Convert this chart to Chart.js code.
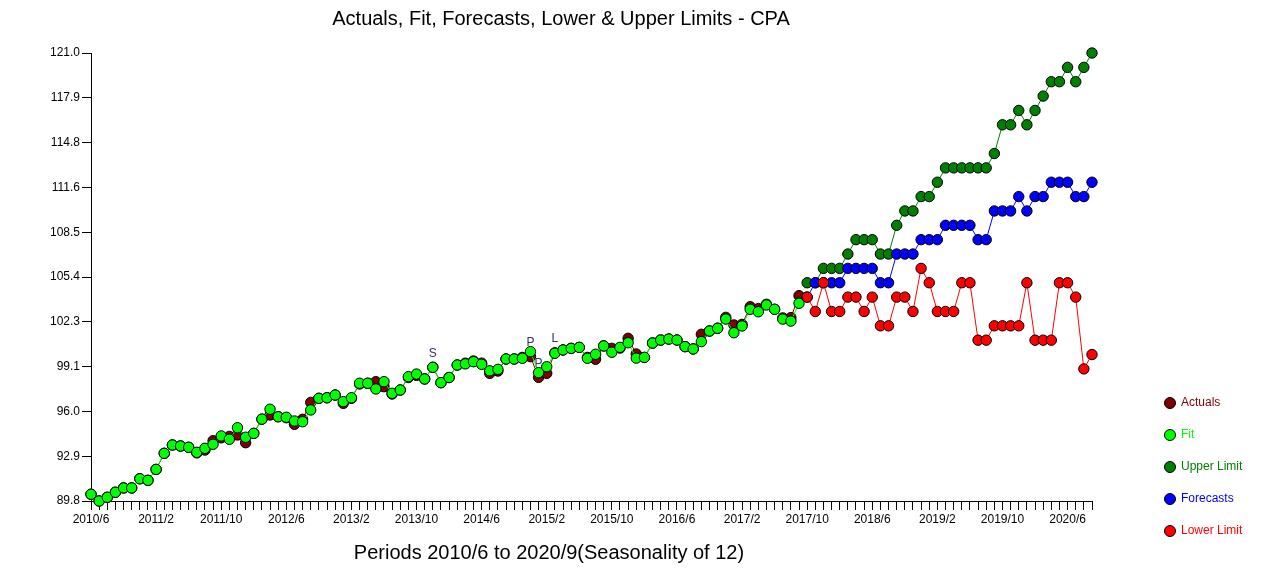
<!DOCTYPE html>
<html>
<head>
<meta charset="utf-8">
<script src="https://cdn.jsdelivr.net/npm/chart.js@4.4.1/dist/chart.umd.min.js"></script>
<style>
  html, body { margin: 0; padding: 0; background: #ffffff; }
  canvas { display: block; }
</style>
</head>
<body>
<canvas id="c" width="1281" height="575"></canvas>
<script>
// ---------------- DATA ----------------
const chartTitle = 'Actuals, Fit, Forecasts, Lower & Upper Limits - CPA';
const xAxisTitle = 'Periods 2010/6 to 2020/9(Seasonality of 12)';
const periodCount = 124;            // 2010/6 .. 2020/9 monthly
const xLabelEvery = 8;
const xTickLabels = ['2010/6','2011/2','2011/10','2012/6','2013/2','2013/10','2014/6','2015/2',
                     '2015/10','2016/6','2017/2','2017/10','2018/6','2019/2','2019/10','2020/6'];
const yTickLabels = ['89.8','92.9','96.0','99.1','102.3','105.4','108.5','111.6','114.8','117.9','121.0'];
const yMin = 89.8, yMax = 121.0;

const actualValues = [
  90.27, 89.80, 90.06, 90.41, 90.71, 90.71, 91.35, 91.24, 92.00, 93.12,
  93.70, 93.63, 93.54, 93.15, 93.35, 94.00, 94.20, 94.30, 94.40, 93.86,
  94.51, 95.50, 95.79, 95.67, 95.60, 95.14, 95.49, 96.67, 96.95, 96.99,
  97.18, 96.60, 96.95, 97.95, 98.00, 98.11, 97.76, 97.25, 97.53, 98.40,
  98.55, 98.30, 99.11, 98.04, 98.40, 99.27, 99.40, 99.55, 99.40, 98.69,
  98.85, 99.69, 99.69, 99.80, 99.85, 98.41, 98.69, 100.12, 100.32, 100.43,
  100.50, 99.80, 99.67, 100.60, 100.43, 100.45, 101.13, 100.04, 99.80, 100.80,
  101.01, 101.08, 101.01, 100.55, 100.39, 101.41, 101.64, 101.83, 102.59, 102.06,
  102.10, 103.33, 103.20, 103.50, 103.15, 102.55, 102.57, 104.10
];
const fitValues = [
  90.27, 89.80, 90.06, 90.41, 90.71, 90.71, 91.35, 91.24, 92.00, 93.12,
  93.70, 93.63, 93.54, 93.19, 93.47, 93.75, 94.33, 94.10, 94.90, 94.24,
  94.51, 95.50, 96.19, 95.67, 95.63, 95.37, 95.32, 96.14, 96.95, 96.99,
  97.18, 96.72, 96.99, 98.00, 98.00, 97.60, 98.11, 97.30, 97.53, 98.46,
  98.64, 98.30, 99.11, 98.04, 98.40, 99.27, 99.35, 99.50, 99.32, 98.87,
  98.97, 99.69, 99.69, 99.74, 100.20, 98.74, 99.15, 100.09, 100.32, 100.43,
  100.50, 99.74, 100.02, 100.60, 100.16, 100.50, 100.82, 99.75, 99.80, 100.80,
  101.01, 101.08, 101.01, 100.55, 100.39, 100.90, 101.64, 101.83, 102.47, 101.52,
  101.99, 103.15, 102.98, 103.45, 103.15, 102.47, 102.33, 103.57
];
const forecastStart = 88;           // 2017/10
const upperValues = [
  105, 105, 106, 106, 106, 107, 108, 108, 108, 107, 107, 109, 110, 110, 111, 111, 112, 113,
  113, 113, 113, 113, 113, 114, 116, 116, 117, 116, 117, 118, 119, 119, 120, 119, 120, 121
];
const forecastValues = [
  104, 105, 105, 105, 105, 106, 106, 106, 106, 105, 105, 107, 107, 107, 108, 108, 108, 109,
  109, 109, 109, 108, 108, 110, 110, 110, 111, 110, 111, 111, 112, 112, 112, 111, 111, 112
];
const lowerValues = [
  104, 103, 105, 103, 103, 104, 104, 103, 104, 102, 102, 104, 104, 103, 106, 105, 103, 103,
  103, 105, 105, 101, 101, 102, 102, 102, 102, 105, 101, 101, 101, 105, 105, 104, 99, 100
];
const annotationIndex = [42, 54, 55, 57];
const annotationText  = ['S', 'P', 'P', 'L'];

// ---------------- BUILD ----------------
const FONT = "'Liberation Sans', Arial, sans-serif";
const toPoints = (vals, start) => vals.map((v, i) => ({ x: start + i, y: v }));

function series(label, color, vals, start, order) {
  return {
    label, data: toPoints(vals, start), order,
    borderColor: color, backgroundColor: color, borderWidth: 1,
    pointBackgroundColor: color, pointBorderColor: '#000000', pointBorderWidth: 1,
    pointRadius: 5.2, pointHoverRadius: 5.2, tension: 0, clip: false, fill: false
  };
}

const datasets = [
  series('Actuals', '#800000', actualValues, 0, 5),
  series('Fit', '#00FF00', fitValues, 0, 4),
  series('Upper Limit', '#008000', upperValues, forecastStart, 3),
  series('Forecasts', '#0000FF', forecastValues, forecastStart, 2),
  series('Lower Limit', '#FF0000', lowerValues, forecastStart, 1)
];

const annotationPlugin = {
  id: 'annot',
  afterDatasetDraw(chart, args) {
    if (args.index !== 0) return;
    const ctx = chart.ctx, meta = chart.getDatasetMeta(0);
    ctx.save();
    ctx.font = '12px ' + FONT;
    ctx.fillStyle = '#333366';
    ctx.textAlign = 'center';
    ctx.textBaseline = 'middle';
    annotationIndex.forEach((idx, k) => {
      const p = meta.data[idx];
      ctx.fillText(annotationText[k], p.x, p.y - 14);
    });
    ctx.restore();
  }
};

const textPlugin = {
  id: 'texts',
  afterDraw(chart) {
    const ctx = chart.ctx, a = chart.chartArea;
    ctx.save();
    ctx.fillStyle = '#000000';
    ctx.textAlign = 'center';
    ctx.textBaseline = 'middle';
    ctx.font = '20px ' + FONT;
    ctx.fillText(chartTitle, a.left + 470, 19);
    ctx.fillText(xAxisTitle, a.left + 458, 553);
    // legend
    ctx.font = '12px ' + FONT;
    ctx.textAlign = 'left';
    chart.data.datasets.forEach((ds, i) => {
      const y = a.bottom - 98 + i * 32;
      const x = a.right + 78;
      ctx.beginPath();
      ctx.arc(x, y, 5.5, 0, Math.PI * 2);
      ctx.fillStyle = ds.borderColor;
      ctx.fill();
      ctx.lineWidth = 1;
      ctx.strokeStyle = '#000000';
      ctx.stroke();
      ctx.fillStyle = ds.borderColor;
      ctx.fillText(ds.label, x + 11, y);
    });
    ctx.restore();
  }
};

new Chart(document.getElementById('c'), {
  type: 'line',
  data: { datasets },
  plugins: [annotationPlugin, textPlugin],
  options: {
    responsive: false,
    animation: false,
    events: [],
    layout: { padding: { left: 0, right: 1281 - 1092, top: 53, bottom: 0 } },
    plugins: { legend: { display: false }, title: { display: false }, tooltip: { enabled: false } },
    scales: {
      x: {
        type: 'linear', min: 0, max: periodCount - 1,
        afterBuildTicks(scale) {
          scale.ticks = Array.from({ length: periodCount }, (_, i) => ({ value: i }));
        },
        afterFit(scale) { scale.height = 74; },
        ticks: {
          autoSkip: false, maxRotation: 0, minRotation: 0, padding: 2,
          color: '#000000', font: { family: FONT, size: 12 },
          callback: (v) => (v % xLabelEvery === 0 ? xTickLabels[v / xLabelEvery] : '')
        },
        grid: { drawOnChartArea: false, drawTicks: true, tickLength: 9, tickColor: '#000000' },
        border: { display: true, color: '#000000', width: 1 }
      },
      y: {
        type: 'linear', min: yMin, max: yMax,
        afterBuildTicks(scale) {
          const n = yTickLabels.length;
          scale.ticks = yTickLabels.map((l, i) => ({ value: yMin + i * (yMax - yMin) / (n - 1), label: l }));
        },
        afterFit(scale) { scale.width = 91; },
        ticks: {
          padding: 2, color: '#000000', font: { family: FONT, size: 12 },
          callback: (v, i) => yTickLabels[i]
        },
        grid: { drawOnChartArea: false, drawTicks: true, tickLength: 9, tickColor: '#000000' },
        border: { display: true, color: '#000000', width: 1 }
      }
    }
  }
});
</script>
</body>
</html>
